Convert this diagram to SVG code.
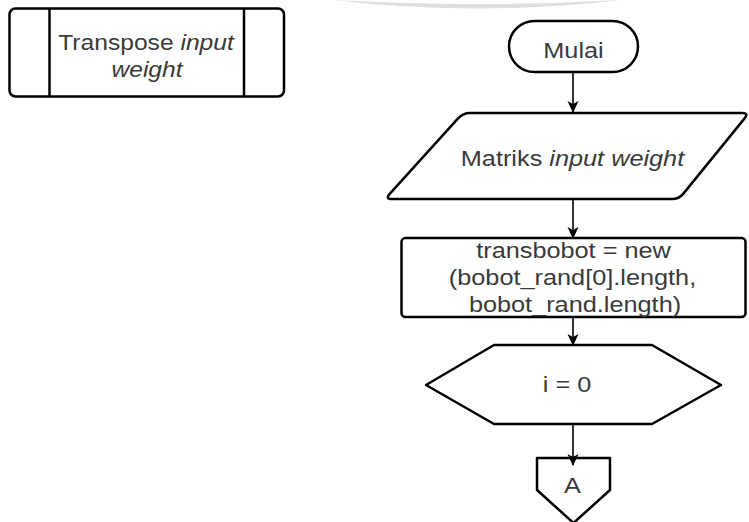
<svg xmlns="http://www.w3.org/2000/svg" width="749" height="522" viewBox="0 0 749 522">
  <style>
    .shape { fill: #ffffff; stroke: #000000; stroke-width: 2.5; stroke-linejoin: round; }
    .edge { fill: none; stroke: #000000; stroke-width: 1.6; }
    .label { font-family: "Liberation Sans", Arial, sans-serif; font-size: 22px; fill: #3a3a3a; text-anchor: middle; }
    .it { font-style: italic; }
  </style>
  <defs>
    <marker id="arrow" markerUnits="userSpaceOnUse" markerWidth="12" markerHeight="12" viewBox="0 0 12 12" refX="11" refY="6" orient="auto">
      <path d="M0,0.5 L12,6 L0,11.5 L3,6 Z" fill="#000000"/>
    </marker>
  </defs>

  <rect width="749" height="522" fill="#ffffff"/>

  <!-- soft grey band along the top edge -->
  <path d="M333,0 Q478,17 622,0 Q478,8 333,0 Z" fill="#dedede"/>

  <!-- predefined process: Transpose input weight -->
  <g id="transpose">
    <rect class="shape" x="9.5" y="8.5" width="274.5" height="88" rx="6"/>
    <line class="shape" x1="49.5" y1="8.5" x2="49.5" y2="96.5"/>
    <line class="shape" x1="244" y1="8.5" x2="244" y2="96.5"/>
    <text class="label" transform="translate(146,50) scale(1.12,1)">Transpose <tspan class="it">input</tspan></text>
    <text class="label it" transform="translate(147,77) scale(1.12,1)">weight</text>
  </g>

  <!-- terminator: Mulai -->
  <g id="mulai">
    <rect class="shape" x="509" y="21" width="129" height="51" rx="25.5"/>
    <text class="label" transform="translate(573.5,58) scale(1.15,1)">Mulai</text>
  </g>

  <!-- input data -->
  <g id="matriks">
    <path class="shape" d="M470,113 L742,113 Q749,113 744.6,118.4 L683.4,193.6 Q679,199 672,199 L392,199 Q385,199 389.7,193.8 L458.3,118.2 Q463,113 470,113 Z"/>
    <text class="label" transform="translate(572.5,166) scale(1.15,1)">Matriks <tspan class="it">input weight</tspan></text>
  </g>

  <!-- process: allocate transposed matrix -->
  <g id="transbobot">
    <rect class="shape" x="401.5" y="238" width="344" height="79" rx="4"/>
    <text class="label" transform="translate(573.5,258) scale(1.15,1)">transbobot = new</text>
    <text class="label" transform="translate(572.5,285) scale(1.15,1)">(bobot_rand[0].length,</text>
    <text class="label" transform="translate(575,312) scale(1.15,1)">bobot_rand.length)</text>
  </g>

  <!-- preparation: loop start -->
  <g id="init-i">
    <polygon class="shape" points="426,385 494,345 652,345 721,385 652,424 494,424"/>
    <text class="label" transform="translate(567,392) scale(1.15,1)">i = 0</text>
  </g>

  <!-- off-page connector A -->
  <g id="connector-a">
    <polygon class="shape" points="537,458 610,458 610,490 573.5,523 537,490"/>
    <text class="label" transform="translate(572.5,493) scale(1.15,1)">A</text>
  </g>

  <!-- connectors -->
  <g id="edges">
    <line class="edge" x1="573" y1="72" x2="573" y2="112" marker-end="url(#arrow)"/>
    <line class="edge" x1="573" y1="199" x2="573" y2="238" marker-end="url(#arrow)"/>
    <line class="edge" x1="573" y1="317" x2="573" y2="345" marker-end="url(#arrow)"/>
    <line class="edge" x1="573" y1="424" x2="573" y2="465" marker-end="url(#arrow)"/>
  </g>
</svg>
